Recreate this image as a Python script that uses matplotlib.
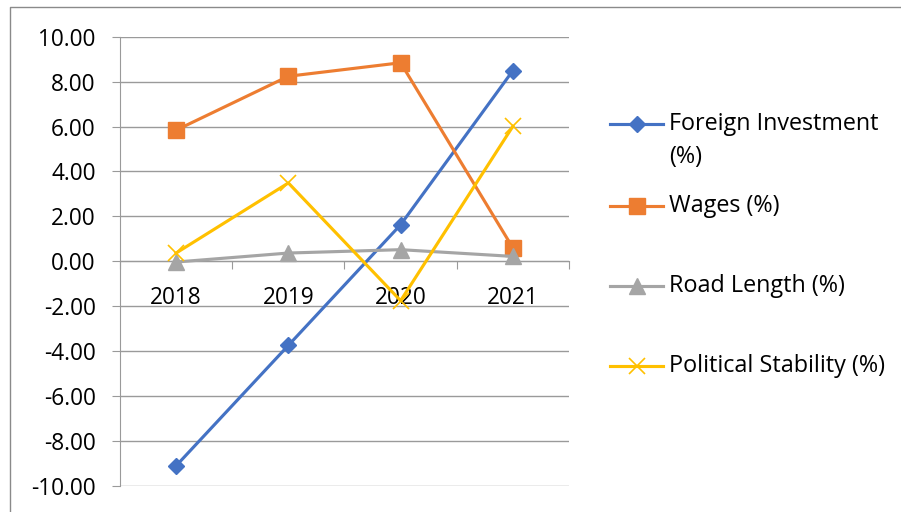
import matplotlib.pyplot as plt
from matplotlib.lines import Line2D

plt.rcParams['font.family'] = ['Open Sans', 'DejaVu Sans']

years = ['2018', '2019', '2020', '2021']
foreign_investment = [-9.10, -3.74, 1.63, 8.49]
wages = [5.84, 8.24, 8.84, 0.60]
road_length = [-0.03, 0.37, 0.52, 0.22]
political_stability = [0.37, 3.49, -1.75, 6.01]

labels = ['Foreign Investment\n(%)', 'Wages (%)', 'Road Length (%)', 'Political Stability (%)']
colors = ['#4472C4', '#ED7D31', '#A5A5A5', '#FFC000']
markers = ['D', 's', '^', 'x']
msizes = [7.8, 11, 11, 11]

grid_col = '#9a9a9a'

fig = plt.figure(figsize=(9.01, 5.12), dpi=100)
ax = fig.add_axes([0.1332, 0.0508, 0.4983, 0.8775])

x = range(len(years))
series = [foreign_investment, wages, road_length, political_stability]
for vals, c, m, ms in zip(series, colors, markers, msizes):
    ax.plot(x, vals, color=c, lw=2.25, marker=m, ms=ms,
            mec=c, mfc=c, mew=1.2 if m == 'x' else 1, zorder=3)

ax.set_xlim(-0.5, 3.5)
ax.set_ylim(-10, 10)
ax.set_yticks(range(-10, 11, 2))
ax.set_yticklabels([f'{v:.2f}' for v in range(-10, 11, 2)])
ax.yaxis.grid(True, color=grid_col, lw=1)
ax.set_axisbelow(True)

# category axis sits on zero
ax.spines['bottom'].set_position(('data', 0))
ax.spines['bottom'].set_color(grid_col)
ax.spines['left'].set_color(grid_col)
ax.spines['top'].set_visible(False)
ax.spines['right'].set_visible(False)

ax.set_xticks([-0.5, 0.5, 1.5, 2.5, 3.5])
ax.set_xticklabels([])
ax.set_xticks(list(x), minor=True)
ax.set_xticklabels(years, minor=True)
ax.tick_params(axis='x', which='major', length=5.5, color=grid_col, direction='out')
ax.tick_params(axis='x', which='minor', length=0, pad=17.5, labelsize=16.3)
ax.tick_params(axis='y', length=5.5, color=grid_col, pad=12, labelsize=16.3)

# legend, Excel style (handle lines up with first text line)
leg_y = [124, 206, 286, 366]
for lab, c, m, ms, yy in zip(labels, colors, markers, msizes, leg_y):
    yf = 1 - yy / 512
    fig.add_artist(Line2D([610 / 901, 663 / 901], [yf, yf], color=c, lw=2.25,
                          transform=fig.transFigure))
    fig.add_artist(Line2D([636.5 / 901], [yf], color=c, marker=m, ms=ms, mfc=c, mec=c,
                          mew=1.2 if m == 'x' else 1, transform=fig.transFigure))
    for i, part in enumerate(lab.split('\n')):
        fig.text(669 / 901, yf - i * 33 / 512, part, fontsize=16.8,
                 va='center', ha='left')

# outer chart frame
fig.add_artist(Line2D([10 / 901, 10 / 901, 1], [0, 1 - 7 / 512, 1 - 7 / 512],
                      color='#8a8a8a', lw=1, transform=fig.transFigure))

fig.savefig('out.png', dpi=100)
